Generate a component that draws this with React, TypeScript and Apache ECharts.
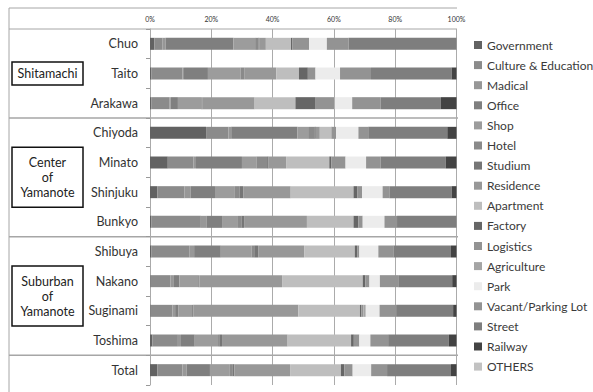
import React, { useEffect, useRef } from "react";
import * as echarts from "echarts";

const districts = ["Chuo", "Taito", "Arakawa", "Chiyoda", "Minato", "Shinjuku", "Bunkyo", "Shibuya", "Nakano", "Suginami", "Toshima", "Total"];

const landUses = ["Government", "Culture & Education", "Madical", "Office", "Shop", "Hotel", "Studium", "Residence", "Apartment", "Factory", "Logistics", "Agriculture", "Park", "Vacant/Parking Lot", "Street", "Railway", "OTHERS"];

const landColors = ["#626262", "#8b8b8b", "#979797", "#7f7f7f", "#9c9c9c", "#8a8a8a", "#767676", "#989898", "#bebebe", "#666666", "#939393", "#a5a5a5", "#ececec", "#939393", "#7e7e7e", "#434343", "#c2c2c2"];

// shares (%) per district, in landUses order
const chuo = [1.4, 2.6, 1.1, 22.1, 7.1, 1.1, 0.2, 2.2, 8.2, 0.5, 5.4, 0, 5.8, 7.1, 35.2, 0, 0];
const taito = [0.5, 10.1, 0.5, 7.8, 10.6, 1.4, 0, 10.3, 7.4, 2.9, 2.5, 0, 8.0, 10.1, 26.3, 1.6, 0];
const arakawa = [0.4, 6.0, 0.3, 2.4, 7.6, 0.3, 0, 17.1, 13.3, 6.6, 6.2, 0, 5.7, 9.3, 19.6, 5.1, 0];
const chiyoda = [18.3, 7.3, 0.9, 21.6, 3.5, 2.2, 0.3, 1.3, 3.8, 0.1, 1.4, 0, 7.3, 3.2, 25.8, 3.0, 0];
const minato = [5.8, 8.4, 0.8, 15.0, 4.7, 3.5, 0.5, 5.7, 14.1, 0.7, 4.6, 0, 6.7, 4.7, 21.3, 3.5, 0];
const shinjuku = [2.4, 8.8, 2.1, 7.9, 6.5, 1.6, 1.1, 15.5, 20.5, 1.2, 1.6, 0, 6.7, 2.2, 20.3, 1.6, 0];
const bunkyo = [0.5, 16.1, 1.8, 5.1, 5.2, 1.1, 0.9, 20.5, 15.2, 1.6, 1.4, 0, 7.1, 4.1, 19.4, 0, 0];
const shibuya = [0.5, 12.3, 1.6, 8.7, 10.0, 0.9, 1.3, 15.0, 16.5, 0.8, 0.7, 0, 6.2, 4.9, 18.8, 1.8, 0];
const nakano = [0.2, 6.5, 1.1, 1.8, 6.1, 0.4, 0, 27.0, 26.3, 0.9, 1.3, 0, 3.4, 6.0, 17.6, 1.4, 0];
const suginami = [0.2, 7.1, 0.9, 1.0, 4.5, 0.4, 0, 34.3, 20.1, 0.5, 0.6, 0.8, 4.5, 5.4, 18.6, 1.1, 0];
const toshima = [0.8, 8.3, 1.0, 4.5, 7.6, 0.4, 0.9, 21.4, 20.7, 0.9, 1.8, 0, 3.6, 5.8, 19.8, 2.5, 0];
const total = [2.4, 8.2, 1.4, 7.6, 6.5, 0.8, 0.7, 18.2, 16.6, 1.1, 2.6, 0.2, 6.0, 5.2, 20.9, 1.8, 0];

const rows = [chuo, taito, arakawa, chiyoda, minato, shinjuku, bunkyo, shibuya, nakano, suginami, toshima, total];

const groups = [
  { label: "Shitamachi", from: 0, to: 3 },
  { label: "Center\nof\nYamanote", from: 3, to: 7 },
  { label: "Suburban\nof\nYamanote", from: 7, to: 11 },
];

const W = 593;
const H = 392;
const GRID_LEFT = 150;
const GRID_TOP = 29;
const GRID_RIGHT_X = 456.5;
const GRID_BOTTOM_Y = 385;
const FRAME_LEFT = 9;
const FRAME_TOP = 8;
const FRAME_RIGHT = 457;
const FONT = "Lato, 'Noto Sans', sans-serif";

export default function App() {
  const ref = useRef<HTMLDivElement>(null);

  useEffect(() => {
    if (!ref.current) return;
    const chart = echarts.init(ref.current, undefined, { renderer: "svg" });

    const sums = rows.map((r) => r.reduce((a, b) => a + b, 0));
    const series = landUses.map((name, i) => ({
      name,
      type: "bar",
      stack: "total",
      barWidth: 12,
      itemStyle: { color: landColors[i] },
      emphasis: { disabled: true },
      data: rows.map((r, j) => (r[i] / sums[j]) * 100),
    }));

    const band = (GRID_BOTTOM_Y - GRID_TOP) / districts.length;
    const lineStyle = { stroke: "#a6a6a6", lineWidth: 1 };
    const graphics: any[] = [
      { type: "line", shape: { x1: FRAME_LEFT, y1: FRAME_TOP, x2: FRAME_LEFT, y2: H }, style: lineStyle, silent: true },
      { type: "line", shape: { x1: FRAME_LEFT, y1: FRAME_TOP, x2: FRAME_RIGHT, y2: FRAME_TOP }, style: lineStyle, silent: true },
      { type: "line", shape: { x1: FRAME_LEFT, y1: GRID_TOP, x2: FRAME_RIGHT, y2: GRID_TOP }, style: lineStyle, silent: true },
    ];
    [3, 7, 11].forEach((k) => {
      const y = GRID_TOP + k * band;
      graphics.push({ type: "line", shape: { x1: FRAME_LEFT, y1: y, x2: FRAME_RIGHT + 1, y2: y }, style: { stroke: "#a6a6a6", lineWidth: 1.5 }, silent: true });
    });
    groups.forEach((g) => {
      const lines = g.label.split("\n").length;
      const h = lines === 1 ? 23 : 60;
      const cy = GRID_TOP + ((g.from + g.to) / 2) * band;
      graphics.push({
        type: "rect",
        shape: { x: 12, y: cy - h / 2, width: 71, height: h },
        style: { fill: "#fff", stroke: "#111", lineWidth: 1.5 },
        silent: true,
      });
      graphics.push({
        type: "text",
        x: 47.5,
        y: cy,
        style: {
          text: g.label,
          font: `12.5px ${FONT}`,
          fill: "#222",
          textAlign: "center",
          textVerticalAlign: "middle",
          lineHeight: 15,
        },
        silent: true,
      });
    });

    chart.setOption({
      animation: false,
      backgroundColor: "#fff",
      grid: {
        left: GRID_LEFT,
        top: GRID_TOP,
        right: W - GRID_RIGHT_X,
        bottom: H - GRID_BOTTOM_Y,
        containLabel: false,
      },
      legend: {
        orient: "vertical",
        left: 469,
        top: 33,
        icon: "rect",
        itemWidth: 8,
        itemHeight: 8,
        itemGap: 6.1,
        selectedMode: false,
        data: landUses,
        textStyle: { fontFamily: FONT, fontSize: 12, color: "#3a3a3a", lineHeight: 14, width: 118, overflow: "none" },
      },
      xAxis: {
        type: "value",
        position: "top",
        min: 0,
        max: 100,
        interval: 20,
        axisLine: { show: false },
        axisTick: { show: false },
        axisLabel: { formatter: "{value}%", fontSize: 7, color: "#333", margin: 7, fontFamily: FONT },
        splitLine: { lineStyle: { color: "#ababab", width: 1 } },
      },
      yAxis: {
        type: "category",
        inverse: true,
        data: districts,
        axisLine: { show: true, lineStyle: { color: "#aaaaaa" } },
        axisTick: { show: true, length: 4, lineStyle: { color: "#999" } },
        axisLabel: { fontSize: 12.5, color: "#333", margin: 12, fontFamily: FONT },
      },
      graphic: graphics,
      series,
    });

    return () => chart.dispose();
  }, []);

  return <div ref={ref} style={{ position: "absolute", left: 0, top: 0, width: W, height: H }} />;
}
